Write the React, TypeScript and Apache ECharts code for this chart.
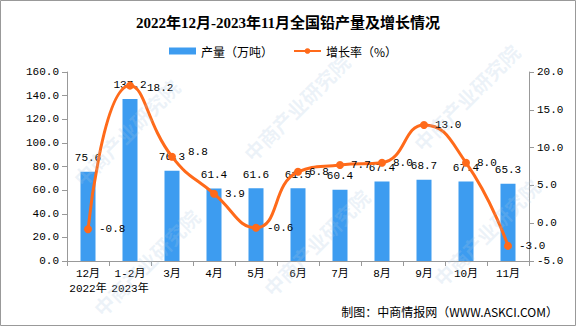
import React, { useEffect, useRef } from "react";
import * as echarts from "echarts";

const categories = ["12月\n2022年", "1-2月\n2023年", "3月", "4月", "5月", "6月", "7月", "8月", "9月", "10月", "11月"];
const production = [75.6, 137.2, 76.3, 61.4, 61.6, 61.5, 60.4, 67.4, 68.7, 67.4, 65.3];
const growth = [-0.8, 18.2, 8.8, 3.9, -0.6, 6.8, 7.7, 8.0, 13.0, 8.0, -3.0];
const leftTicks = { min: 0, max: 160, interval: 20 };
const rightTicks = { min: -5, max: 20, interval: 5 };

const FONT = "'Liberation Mono', 'Noto Sans CJK SC', monospace";
const CJK = "'Noto Sans CJK SC', sans-serif";

export default function App() {
  const ref = useRef<HTMLDivElement>(null);
  useEffect(() => {
    document.body.style.margin = "0";
    const chart = echarts.init(ref.current!, undefined, { renderer: "svg" });
    const wmPos = [
      [70, 175],
      [240, 150],
      [410, 140],
      [90, 305],
      [260, 285],
      [430, 275],
    ];
    const watermarks = wmPos.map(([x, y]) => ({
      type: "text",
      x,
      y,
      rotation: Math.PI / 4,
      silent: true,
      z: 100,
      style: {
        text: "中商产业研究院",
        fill: "rgba(170,200,225,0.22)",
        font: "bold 20px 'Noto Sans CJK SC'",
      },
    }));
    const labelShift: Record<number, number[]> = { 1: [6, 2], 2: [5, -5] };
    const growthData = growth.map((v, i) =>
      labelShift[i] ? { value: v, label: { offset: labelShift[i] } } : v
    );
    chart.setOption({
      animation: false,
      backgroundColor: "#ffffff",
      title: {
        text: "2022年12月-2023年11月全国铅产量及增长情况",
        left: "center",
        top: 10,
        textStyle: {
          fontFamily: "'Liberation Serif', 'Noto Sans CJK SC', serif",
          fontWeight: "bold",
          fontSize: 15,
          color: "#000",
        },
      },
      legend: {
        left: 164,
        top: 40,
        itemWidth: 27,
        itemHeight: 7,
        itemGap: 20,
        textStyle: { fontFamily: CJK, fontSize: 12, color: "#000" },
        data: [
          { name: "产量（万吨）", icon: "rect" },
          { name: "增长率（%）" },
        ],
      },
      graphic: [
        ...watermarks,
        {
          type: "rect",
          shape: { x: 0.5, y: 0.5, width: 575, height: 325 },
          style: { fill: "none", stroke: "#999", lineWidth: 1 },
          silent: true,
        },
        {
          type: "text",
          right: 18,
          top: 305,
          style: {
            text: "制图：中商情报网（WWW.ASKCI.COM）",
            fill: "#000",
            font: "12px 'Noto Sans CJK SC'",
          },
        },
      ],
      grid: { left: 67, right: 47, top: 72, bottom: 65 },
      xAxis: {
        type: "category",
        data: categories,
        axisLine: { lineStyle: { color: "#999" } },
        axisTick: { show: true, alignWithLabel: false, lineStyle: { color: "#999" } },
        axisLabel: { color: "#000", fontFamily: FONT, fontSize: 11, interval: 0, lineHeight: 15, margin: 5 },
      },
      yAxis: [
        {
          type: "value",
          min: leftTicks.min,
          max: leftTicks.max,
          interval: leftTicks.interval,
          axisLine: { show: true, lineStyle: { color: "#999" } },
          axisTick: { show: true, lineStyle: { color: "#999" } },
          splitLine: { show: false },
          axisLabel: {
            color: "#000",
            fontFamily: FONT,
            fontSize: 11,
            formatter: (v: number) => v.toFixed(1),
          },
        },
        {
          type: "value",
          min: rightTicks.min,
          max: rightTicks.max,
          interval: rightTicks.interval,
          axisLine: { show: true, lineStyle: { color: "#999" } },
          axisTick: { show: true, lineStyle: { color: "#999" } },
          splitLine: { show: false },
          axisLabel: {
            color: "#000",
            fontFamily: FONT,
            fontSize: 11,
            formatter: (v: number) => v.toFixed(1),
          },
        },
      ],
      series: [
        {
          name: "产量（万吨）",
          type: "bar",
          data: production,
          barWidth: 15,
          itemStyle: { color: "#3d9cf0" },
          label: {
            show: true,
            position: "top",
            distance: 8,
            color: "#000",
            fontFamily: FONT,
            fontSize: 11,
            formatter: (p: any) => p.value.toFixed(1),
          },
          z: 2,
        },
        {
          name: "增长率（%）",
          type: "line",
          yAxisIndex: 1,
          data: growthData,
          smooth: 0.5,
          symbol: "circle",
          symbolSize: 8,
          lineStyle: { color: "#ff6a1a", width: 3 },
          itemStyle: { color: "#ff6a1a" },
          label: {
            show: true,
            position: "right",
            distance: 7,
            color: "#000",
            fontFamily: FONT,
            fontSize: 11,
            formatter: (p: any) => Number(p.value).toFixed(1),
          },
          z: 3,
        },
      ],
    });
    return () => chart.dispose();
  }, []);
  return <div ref={ref} style={{ width: 576, height: 326 }} />;
}
